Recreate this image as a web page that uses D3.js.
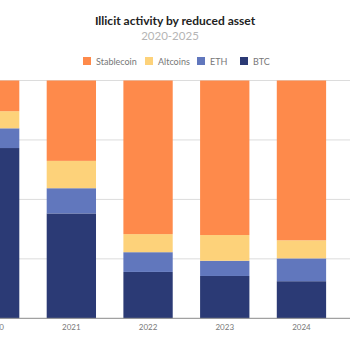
<!DOCTYPE html>
<html>
<head>
<meta charset="utf-8">
<script src="https://cdn.jsdelivr.net/npm/d3@7"></script>
<style>
  html, body { margin: 0; padding: 0; background: #fff; overflow: hidden; }
  svg { display: block; font-family: Lato, "Open Sans", sans-serif; }
</style>
</head>
<body>
<svg id="chart" width="350" height="350"></svg>
<script>
const title = "Illicit activity by reduced asset";
const subtitle = "2020-2025";
const years = ["2020", "2021", "2022", "2023", "2024", "2025"];
const seriesNames = ["BTC", "ETH", "Altcoins", "Stablecoin"];
const legendOrder = ["Stablecoin", "Altcoins", "ETH", "BTC"];
const btc        = [71.6, 44.1, 19.5, 17.8, 15.6, 8];
const eth        = [8.3, 10.6, 8.3, 6.4, 9.6, 5];
const altcoins   = [7.2, 11.5, 7.6, 10.8, 7.6, 3];
const stablecoin = [12.9, 33.8, 64.6, 65.0, 67.2, 84];
const yTicks = [0, 25, 50, 75, 100];
const colors = { "BTC": "#2b3a75", "ETH": "#6177bd", "Altcoins": "#fdd27a", "Stablecoin": "#fe8a4b" };

const rows = years.map((y, i) => ({ year: y, BTC: btc[i], ETH: eth[i], Altcoins: altcoins[i], Stablecoin: stablecoin[i] }));

const svg = d3.select("#chart");
const plotTop = 80.5, plotBottom = 318.3;

const x = d3.scaleBand().domain(years).range([-43.7, 416.5]).paddingInner(0.357).paddingOuter(0.1785);
const y = d3.scaleLinear().domain([0, 100]).range([plotBottom, plotTop]);

// gridlines
svg.append("g").selectAll("line").data(yTicks.slice(1)).join("line")
  .attr("x1", -100).attr("x2", 450)
  .attr("y1", d => y(d)).attr("y2", d => y(d))
  .attr("stroke", "#dcdcdc").attr("stroke-width", 1);

const stack = d3.stack().keys(seriesNames);
const stacked = stack(rows);

svg.append("g").selectAll("g").data(stacked).join("g")
  .attr("fill", d => colors[d.key])
  .selectAll("rect").data(d => d).join("rect")
  .attr("x", d => x(d.data.year))
  .attr("width", x.bandwidth())
  .attr("y", d => y(d[1]))
  .attr("height", d => y(d[0]) - y(d[1]));

// x axis
const xAxis = svg.append("g").attr("transform", `translate(0,${plotBottom})`)
  .call(d3.axisBottom(x).tickSize(0).tickPadding(6));
xAxis.select(".domain").attr("stroke", "#8a8a8a").attr("d", "M-100,0H450");
xAxis.selectAll("text").attr("fill", "#777").attr("font-size", 8).attr("font-family", "Lato, sans-serif");

// title
svg.append("text").attr("x", 175).attr("y", 25).attr("text-anchor", "middle")
  .attr("font-size", 12).attr("font-weight", "bold").attr("fill", "#222").text(title);
svg.append("text").attr("x", 170).attr("y", 40).attr("text-anchor", "middle")
  .attr("font-size", 11.5).attr("fill", "#b5b5b5").text(subtitle);

// legend
const legendX = [83, 145, 197, 240];
const lg = svg.append("g").selectAll("g").data(legendOrder).join("g")
  .attr("transform", (d, i) => `translate(${legendX[i]},57)`);
lg.append("rect").attr("width", 8).attr("height", 8).attr("fill", d => colors[d]);
lg.append("text").attr("x", 13).attr("y", 7.5).attr("font-size", 9).attr("fill", "#777").text(d => d);
</script>
</body>
</html>
